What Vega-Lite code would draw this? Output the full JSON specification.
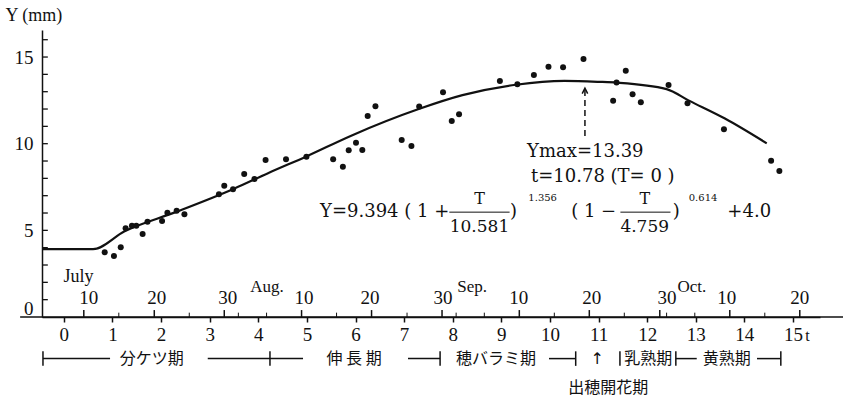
{
  "$schema": "https://vega.github.io/schema/vega-lite/v6.json",
  "width": 778,
  "height": 287,
  "autosize": "none",
  "padding": {"left": 42, "top": 30, "right": 23, "bottom": 84},
  "background": "white",
  "config": {"view": {"stroke": null}, "font": "Liberation Serif", "text": {"font": "Liberation Serif", "color": "#111"}},
  "datasets": {
    "pts": [
      {"t": 0.84, "Y": 3.73}, {"t": 1.03, "Y": 3.52}, {"t": 1.17, "Y": 4.02}, {"t": 1.27, "Y": 5.12},
      {"t": 1.40, "Y": 5.27}, {"t": 1.49, "Y": 5.27}, {"t": 1.62, "Y": 4.79}, {"t": 1.72, "Y": 5.5},
      {"t": 2.02, "Y": 5.54}, {"t": 2.13, "Y": 6.02}, {"t": 2.32, "Y": 6.13}, {"t": 2.48, "Y": 5.93},
      {"t": 3.19, "Y": 7.08}, {"t": 3.30, "Y": 7.58}, {"t": 3.48, "Y": 7.37}, {"t": 3.71, "Y": 8.25},
      {"t": 3.92, "Y": 7.96}, {"t": 4.15, "Y": 9.06}, {"t": 4.57, "Y": 9.1}, {"t": 4.99, "Y": 9.25},
      {"t": 5.54, "Y": 9.1}, {"t": 5.74, "Y": 8.67}, {"t": 5.86, "Y": 9.62}, {"t": 6.01, "Y": 10.06},
      {"t": 6.14, "Y": 9.64}, {"t": 6.25, "Y": 11.6}, {"t": 6.41, "Y": 12.16}, {"t": 6.95, "Y": 10.21},
      {"t": 7.15, "Y": 9.87}, {"t": 7.31, "Y": 12.14}, {"t": 7.80, "Y": 12.97}, {"t": 7.98, "Y": 11.31},
      {"t": 8.13, "Y": 11.7}, {"t": 8.97, "Y": 13.62}, {"t": 9.33, "Y": 13.43}, {"t": 9.67, "Y": 13.96},
      {"t": 9.97, "Y": 14.44}, {"t": 10.27, "Y": 14.41}, {"t": 10.69, "Y": 14.89}, {"t": 11.30, "Y": 12.48},
      {"t": 11.37, "Y": 13.53}, {"t": 11.56, "Y": 14.21}, {"t": 11.70, "Y": 12.85}, {"t": 11.87, "Y": 12.39},
      {"t": 12.44, "Y": 13.39}, {"t": 12.83, "Y": 12.33}, {"t": 13.58, "Y": 10.83}, {"t": 14.55, "Y": 9.02},
      {"t": 14.72, "Y": 8.42}
    ],
    "curve": [
      {"t": -0.45, "Y": 3.92}, {"t": 0.6, "Y": 3.92}, {"t": 1.25, "Y": 4.95}, {"t": 2.3, "Y": 6.05},
      {"t": 3.5, "Y": 7.4}, {"t": 4.2, "Y": 8.3}, {"t": 5.0, "Y": 9.28}, {"t": 5.9, "Y": 10.45},
      {"t": 7.3, "Y": 12.0}, {"t": 8.2, "Y": 12.8}, {"t": 9.3, "Y": 13.4}, {"t": 10.3, "Y": 13.62},
      {"t": 11.0, "Y": 13.57}, {"t": 11.4, "Y": 13.52}, {"t": 12.4, "Y": 13.15}, {"t": 12.85, "Y": 12.5},
      {"t": 13.6, "Y": 11.45}, {"t": 14.46, "Y": 10.02}
    ],
    "yTicks": [
      {"Y": 1}, {"Y": 2}, {"Y": 3}, {"Y": 4}, {"Y": 5}, {"Y": 6}, {"Y": 7}, {"Y": 8},
      {"Y": 9}, {"Y": 10}, {"Y": 11}, {"Y": 12}, {"Y": 13}, {"Y": 14}, {"Y": 15}, {"Y": 16}
    ],
    "minorTicks": [
      {"t": 1.13}, {"t": 2.58}, {"t": 3.59}, {"t": 4.17}, {"t": 5.61}, {"t": 7.06}, {"t": 8.07},
      {"t": 8.65}, {"t": 10.09}, {"t": 11.53}, {"t": 12.40}, {"t": 12.98}, {"t": 14.42}
    ],
    "majorTicks": [
      {"t": 0.41}, {"t": 1.86}, {"t": 3.30}, {"t": 4.89}, {"t": 6.33}, {"t": 7.78},
      {"t": 9.37}, {"t": 10.81}, {"t": 12.26}, {"t": 13.70}, {"t": 15.14}
    ],
    "dateLabels": [
      {"t": 0.51, "label": "10"}, {"t": 1.91, "label": "20"}, {"t": 3.37, "label": "30"},
      {"t": 4.94, "label": "10"}, {"t": 6.30, "label": "20"}, {"t": 7.80, "label": "30"},
      {"t": 9.36, "label": "10"}, {"t": 10.86, "label": "20"}, {"t": 12.41, "label": "30"},
      {"t": 13.64, "label": "10"}, {"t": 15.14, "label": "20"}
    ],
    "months": [
      {"t": 4.18, "label": "Aug."}, {"t": 8.40, "label": "Sep."}, {"t": 12.92, "label": "Oct."}
    ],
    "mainText": [
      {"t": 6.6, "label": "Y=9.394 ( 1 +"}, {"t": 9.25, "label": ")"}, {"t": 10.9, "label": "( 1 −"},
      {"t": 12.6, "label": ")"}, {"t": 14.1, "label": "+4.0"}
    ],
    "numer": [{"t": 8.55, "label": "T"}, {"t": 11.95, "label": "T"}],
    "denom": [{"t": 8.55, "label": "10.581"}, {"t": 11.95, "label": "4.759"}],
    "sup": [{"t": 9.85, "label": "1.356"}, {"t": 13.15, "label": "0.614"}],
    "bars": [{"t": 7.93, "t2": 9.17}, {"t": 11.45, "t2": 12.48}],
    "stageSeg": [
      {"t": -0.43, "t2": 0.95}, {"t": 2.96, "t2": 4.92}, {"t": 7.08, "t2": 7.74},
      {"t": 9.98, "t2": 10.53}, {"t": 12.59, "t2": 13.02}, {"t": 14.26, "t2": 14.75}
    ],
    "stageBars": [{"t": -0.43}, {"t": 4.24}, {"t": 7.74}, {"t": 10.53}, {"t": 11.44}, {"t": 12.59}, {"t": 14.75}],
    "stageText": [
      {"t": 1.81, "label": "分ケツ期"}, {"t": 5.97, "label": "伸 長 期"}, {"t": 8.89, "label": "穂バラミ期"},
      {"t": 12.02, "label": "乳熟期"}, {"t": 13.64, "label": "黄熟期"}
    ]
  },
  "layer": [
    {
      "data": {"values": [{}]},
      "mark": {"type": "rule", "color": "#111", "strokeWidth": 1.5},
      "encoding": {"x": {"datum": -0.9}, "x2": {"datum": 16.03}, "y": {"datum": 0}}
    },
    {
      "data": {"name": "yTicks"},
      "mark": {"type": "rule", "color": "#111", "strokeWidth": 1.3},
      "encoding": {"x": {"datum": -0.45}, "x2": {"datum": -0.33}, "y": {"field": "Y", "type": "quantitative"}}
    },
    {
      "data": {"name": "minorTicks"},
      "mark": {"type": "rule", "color": "#111", "strokeWidth": 1},
      "encoding": {"x": {"field": "t", "type": "quantitative"}, "y": {"datum": 0}, "y2": {"datum": 0.25}}
    },
    {
      "data": {"name": "majorTicks"},
      "mark": {"type": "rule", "color": "#111", "strokeWidth": 1.5},
      "encoding": {"x": {"field": "t", "type": "quantitative"}, "y": {"datum": 0}, "y2": {"datum": 0.4}}
    },
    {
      "data": {"name": "dateLabels"},
      "mark": {"type": "text", "fontSize": 19, "baseline": "middle"},
      "encoding": {"x": {"field": "t", "type": "quantitative"}, "y": {"datum": 1.1}, "text": {"field": "label"}}
    },
    {
      "data": {"name": "months"},
      "mark": {"type": "text", "fontSize": 17, "baseline": "middle"},
      "encoding": {"x": {"field": "t", "type": "quantitative"}, "y": {"datum": 1.75}, "text": {"field": "label"}}
    },
    {
      "data": {"values": [{"label": "July"}]},
      "mark": {"type": "text", "fontSize": 18, "baseline": "middle"},
      "encoding": {"x": {"datum": 0.3}, "y": {"datum": 2.3}, "text": {"field": "label"}}
    },
    {
      "data": {"name": "curve"},
      "mark": {"type": "line", "color": "#111", "strokeWidth": 2.2, "interpolate": "monotone"},
      "encoding": {"x": {"field": "t", "type": "quantitative"}, "y": {"field": "Y", "type": "quantitative"}}
    },
    {
      "data": {"name": "pts"},
      "mark": {"type": "point", "filled": true, "color": "#111", "size": 36, "opacity": 1},
      "encoding": {
        "x": {
          "field": "t", "type": "quantitative",
          "scale": {"domain": [-0.45, 15.556], "nice": false, "zero": false},
          "axis": {
            "title": "t", "values": [0,1,2,3,4,5,6,7,8,9,10,11,12,13,14,15],
            "grid": false, "domain": true, "domainColor": "#111", "domainWidth": 1.5,
            "tickColor": "#111", "tickSize": 5, "tickWidth": 1.5, "labelOverlap": false,
            "labelFont": "Liberation Serif", "labelFontSize": 19, "labelColor": "#111", "labelPadding": 3,
            "titleFont": "Liberation Serif", "titleFontSize": 16, "titleFontWeight": "normal", "titleColor": "#111",
            "titleX": 765, "titleY": 18, "titleAlign": "center", "titleBaseline": "middle", "titleAnchor": null
          }
        },
        "y": {
          "field": "Y", "type": "quantitative",
          "scale": {"domain": [0, 16.56], "nice": false, "zero": false},
          "axis": {
            "title": "Y (mm)", "values": [0, 5, 10, 15],
            "grid": false, "domain": true, "domainColor": "#111", "domainWidth": 1.5,
            "ticks": false, "labelOverlap": false,
            "labelFont": "Liberation Serif", "labelFontSize": 19, "labelColor": "#111", "labelPadding": 9,
            "labelOffset": {"condition": {"test": "datum.value === 0", "value": -9}, "value": 0},
            "titleFont": "Liberation Serif", "titleFontSize": 18, "titleFontWeight": "normal", "titleColor": "#111",
            "titleAngle": 0, "titleX": -37, "titleY": -15, "titleAlign": "left", "titleBaseline": "middle", "titleAnchor": null
          }
        }
      }
    },
    {
      "data": {"values": [{}]},
      "mark": {"type": "rule", "color": "#111", "strokeWidth": 1.5, "strokeDash": [6, 4]},
      "encoding": {"x": {"datum": 10.72}, "y": {"datum": 10.45}, "y2": {"datum": 13.1}}
    },
    {
      "data": {"values": [{}]},
      "mark": {"type": "point", "shape": "M-0.5,1 L0,0 L0.5,1", "filled": false, "color": "#111", "strokeWidth": 1.5, "size": 120, "opacity": 1},
      "encoding": {"x": {"datum": 10.72}, "y": {"datum": 13.2}}
    },
    {
      "data": {"values": [{"label": "Ymax=13.39"}]},
      "mark": {"type": "text", "fontSize": 18, "baseline": "middle", "align": "left", "font": "DejaVu Serif"},
      "encoding": {"x": {"datum": 9.53}, "y": {"datum": 9.5}, "text": {"field": "label"}}
    },
    {
      "data": {"values": [{"label": "t=10.78 (T= 0 )"}]},
      "mark": {"type": "text", "fontSize": 18, "baseline": "middle", "align": "left", "font": "DejaVu Serif"},
      "encoding": {"x": {"datum": 9.61}, "y": {"datum": 8.1}, "text": {"field": "label"}}
    },
    {
      "data": {"name": "mainText"},
      "mark": {"type": "text", "fontSize": 18, "baseline": "middle", "font": "DejaVu Serif"},
      "encoding": {"x": {"field": "t", "type": "quantitative"}, "y": {"datum": 6.05}, "text": {"field": "label"}}
    },
    {
      "data": {"name": "numer"},
      "mark": {"type": "text", "fontSize": 16, "baseline": "middle", "font": "DejaVu Serif"},
      "encoding": {"x": {"field": "t", "type": "quantitative"}, "y": {"datum": 6.78}, "text": {"field": "label"}}
    },
    {
      "data": {"name": "denom"},
      "mark": {"type": "text", "fontSize": 17, "baseline": "middle", "font": "DejaVu Serif"},
      "encoding": {"x": {"field": "t", "type": "quantitative"}, "y": {"datum": 5.2}, "text": {"field": "label"}}
    },
    {
      "data": {"name": "sup"},
      "mark": {"type": "text", "fontSize": 10, "baseline": "middle", "font": "DejaVu Serif"},
      "encoding": {"x": {"field": "t", "type": "quantitative"}, "y": {"datum": 6.85}, "text": {"field": "label"}}
    },
    {
      "data": {"name": "bars"},
      "mark": {"type": "rule", "color": "#111", "strokeWidth": 1},
      "encoding": {"x": {"field": "t", "type": "quantitative"}, "x2": {"field": "t2"}, "y": {"datum": 6.05}}
    },
    {
      "data": {"name": "stageSeg"},
      "mark": {"type": "rule", "color": "#111", "strokeWidth": 1.5},
      "encoding": {"x": {"field": "t", "type": "quantitative"}, "x2": {"field": "t2"}, "y": {"datum": -2.4}}
    },
    {
      "data": {"name": "stageBars"},
      "mark": {"type": "rule", "color": "#111", "strokeWidth": 1.5},
      "encoding": {"x": {"field": "t", "type": "quantitative"}, "y": {"datum": -2.82}, "y2": {"datum": -1.98}}
    },
    {
      "data": {"name": "stageText"},
      "mark": {"type": "text", "fontSize": 16, "baseline": "middle", "font": "Noto Sans CJK JP"},
      "encoding": {"x": {"field": "t", "type": "quantitative"}, "y": {"datum": -2.4}, "text": {"field": "label"}}
    },
    {
      "data": {"values": [{"label": "↑"}]},
      "mark": {"type": "text", "fontSize": 16, "baseline": "middle", "font": "DejaVu Sans"},
      "encoding": {"x": {"datum": 10.97}, "y": {"datum": -2.4}, "text": {"field": "label"}}
    },
    {
      "data": {"values": [{"label": "出穂開花期"}]},
      "mark": {"type": "text", "fontSize": 16, "baseline": "middle", "font": "Noto Sans CJK JP"},
      "encoding": {"x": {"datum": 11.2}, "y": {"datum": -4.1}, "text": {"field": "label"}}
    }
  ]
}
